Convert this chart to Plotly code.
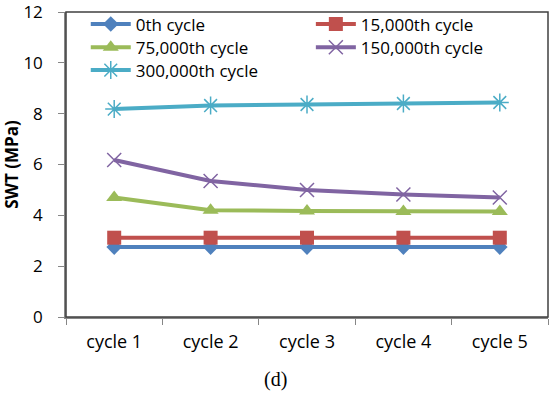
import plotly.graph_objects as go

categories = ["cycle 1", "cycle 2", "cycle 3", "cycle 4", "cycle 5"]
series_names = ["0th cycle", "15,000th cycle", "75,000th cycle", "150,000th cycle", "300,000th cycle"]
s0 = [2.75, 2.75, 2.75, 2.75, 2.75]
s15k = [3.12, 3.12, 3.12, 3.12, 3.12]
s75k = [4.70, 4.20, 4.17, 4.15, 4.15]
s150k = [6.18, 5.35, 5.00, 4.82, 4.70]
s300k = [8.18, 8.32, 8.36, 8.40, 8.44]
y_ticks = [0, 2, 4, 6, 8, 10, 12]

colors = ["#4F81BD", "#C0504D", "#9BBB59", "#8064A2", "#4BACC6"]
symbols = ["diamond", "square", "triangle-up", "x-thin-open", "asterisk-open"]
sizes = [12, 14, 14, 14, 15]
legend_ids = ["legend", "legend2", "legend3", "legend4", "legend5"]
legend_pos = [(0.041, 1.018), (0.508, 1.018), (0.041, 0.942), (0.508, 0.942), (0.041, 0.867)]
data = [s0, s15k, s75k, s150k, s300k]

fig = go.Figure()
for name, vals, c, sym, sz, lg in zip(series_names, data, colors, symbols, sizes, legend_ids):
    fig.add_trace(go.Scatter(
        x=categories, y=vals, name=name, mode="lines+markers",
        line=dict(color=c, width=4), legend=lg,
        marker=dict(symbol=sym, size=sz, color=c,
                    line=dict(color=c, width=1.5 if "open" in sym else 0)),
    ))

font_family = "Open Sans"
legend_layout = {}
for lg, (lx, ly) in zip(legend_ids, legend_pos):
    legend_layout[lg] = dict(x=lx, y=ly, yanchor="top", xanchor="left",
                             font=dict(size=17, family=font_family),
                             bgcolor="rgba(0,0,0,0)", itemwidth=40)

fig.update_layout(
    width=550, height=397,
    margin=dict(l=66, r=2, t=12, b=80, autoexpand=False),
    paper_bgcolor="white", plot_bgcolor="white",
    font=dict(family=font_family, size=18, color="black"),
    showlegend=True,
    xaxis=dict(range=[-0.5, 4.5], showgrid=False, showline=True, linecolor="#868686",
               linewidth=1.5, ticks="outside", tickson="boundaries", ticklen=6,
               tickcolor="#868686", mirror=False, zeroline=False, automargin=False,
               tickfont=dict(size=18), ticklabelstandoff=8),
    yaxis=dict(range=[0, 12], tickvals=y_ticks, showgrid=False, showline=True,
               linecolor="#868686", linewidth=1.5, ticks="outside", ticklen=6,
               tickcolor="#868686", zeroline=False, tickfont=dict(size=17),
               ticklabelstandoff=12, ticklabeloverflow="allow", automargin=False,
               title=dict(text="<b>SWT (MPa)</b>", font=dict(size=17), standoff=0)),
    shapes=[dict(type="rect", xref="paper", yref="paper", x0=0, x1=1, y0=0, y1=1,
                 line=dict(color="#404040", width=1.5), layer="above")],
    annotations=[dict(text="(d)", xref="paper", yref="paper", x=0.435, y=-0.205,
                      xanchor="center", yanchor="middle", showarrow=False,
                      font=dict(family="Liberation Serif", size=20))],
    **legend_layout,
)

fig.write_html("out.html")
